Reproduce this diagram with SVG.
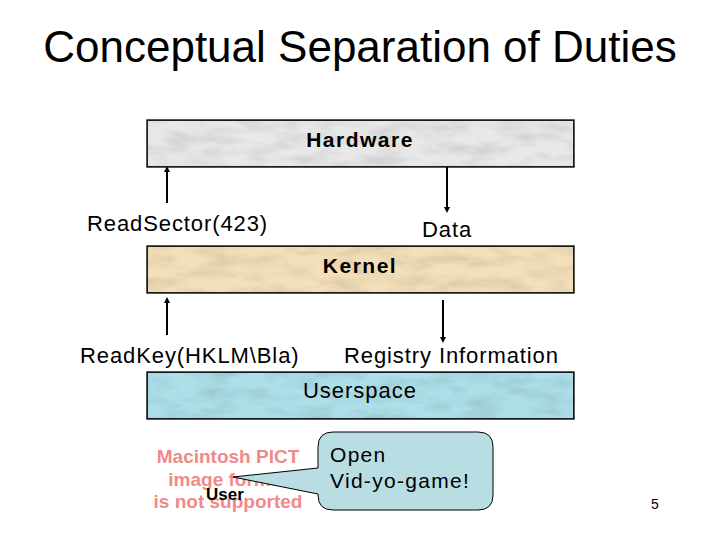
<svg xmlns="http://www.w3.org/2000/svg" width="720" height="540" viewBox="0 0 720 540">
<defs>
<style>
.t{font-family:"Liberation Sans",Arial,sans-serif;fill:#000}
.lb{font-size:22px;letter-spacing:0.9px}
.box{stroke:#000;stroke-width:1.3}
.ln{stroke:#000;stroke-width:2;fill:none}
.pict{font-family:"Liberation Sans",Arial,sans-serif;font-weight:bold;font-size:19px;fill:#f08a8a;text-anchor:middle}
</style>
<marker id="ah" viewBox="0 0 6 6" refX="3" refY="3" markerWidth="3" markerHeight="3" orient="auto-start-reverse">
<path d="M0,0L6,3L0,6z" fill="#000"/>
</marker>
<filter id="marble" x="0" y="0" width="1" height="1">
<feTurbulence type="fractalNoise" baseFrequency="0.03 0.09" numOctaves="3" seed="3"/>
<feColorMatrix type="matrix" values="0 0 0 0 0  0 0 0 0 0  0 0 0 0 0  0 0 0 -0.4 0.25"/>
<feComposite in2="SourceGraphic" operator="in"/>
<feBlend in="SourceGraphic" mode="multiply"/>
</filter>
</defs>
<rect width="720" height="540" fill="#fff"/>
<text class="t" x="360" y="62" font-size="44" text-anchor="middle">Conceptual Separation of Duties</text>

<g id="hardware">
<rect class="box" x="147" y="120" width="427" height="47" fill="#e8e8e8" filter="url(#marble)"/>
<rect x="147" y="120" width="427" height="47" fill="none" stroke="#000" stroke-width="1.3"/>
<text class="t" x="360" y="147" font-size="21" font-weight="bold" letter-spacing="1.5" text-anchor="middle">Hardware</text>
</g>
<g id="kernel">
<rect class="box" x="147" y="246" width="427" height="47" fill="#f3dfb9" filter="url(#marble)"/>
<rect x="147" y="246" width="427" height="47" fill="none" stroke="#000" stroke-width="1.3"/>
<text class="t" x="360" y="273" font-size="21" font-weight="bold" letter-spacing="1.5" text-anchor="middle">Kernel</text>
</g>
<g id="userspace">
<rect class="box" x="147" y="372" width="427" height="47" fill="#addfe9" filter="url(#marble)"/>
<rect x="147" y="372" width="427" height="47" fill="none" stroke="#000" stroke-width="1.3"/>
<text class="t" x="360" y="398" font-size="22" letter-spacing="1" text-anchor="middle">Userspace</text>
</g>

<g id="connectors">
<line class="ln" x1="167" y1="203" x2="167" y2="169" marker-end="url(#ah)"/>
<line class="ln" x1="447" y1="167" x2="447" y2="210" marker-end="url(#ah)"/>
<line class="ln" x1="167" y1="335" x2="167" y2="300" marker-end="url(#ah)"/>
<line class="ln" x1="443" y1="300" x2="443" y2="340" marker-end="url(#ah)"/>
</g>

<g id="labels">
<text class="t lb" x="87" y="231">ReadSector(423)</text>
<text class="t lb" x="422" y="237">Data</text>
<text class="t lb" x="80" y="363">ReadKey(HKLM\Bla)</text>
<text class="t lb" x="344" y="363">Registry Information</text>
</g>

<g id="user">
<text class="pict" x="228" y="463">Macintosh PICT</text>
<text class="pict" x="228" y="486">image format</text>
<text class="pict" x="228" y="508">is not supported</text>
<text class="t" x="225" y="500" font-size="17" font-weight="bold" text-anchor="middle">User</text>
</g>

<g id="callout">
<path d="M333,432 H478 Q493,432 493,447 V495 Q493,510 478,510 H333 Q318,510 318,495 V494 L233,477 L318,468 V447 Q318,432 333,432 Z" fill="#b8dde2" stroke="#000" stroke-width="1"/>
<text class="t" x="330" y="462" font-size="21" letter-spacing="1.3">Open</text>
<text class="t" x="330" y="488" font-size="21" letter-spacing="1.3">Vid-yo-game!</text>
</g>

<text class="t" x="655" y="509" font-size="14" text-anchor="middle">5</text>
</svg>
